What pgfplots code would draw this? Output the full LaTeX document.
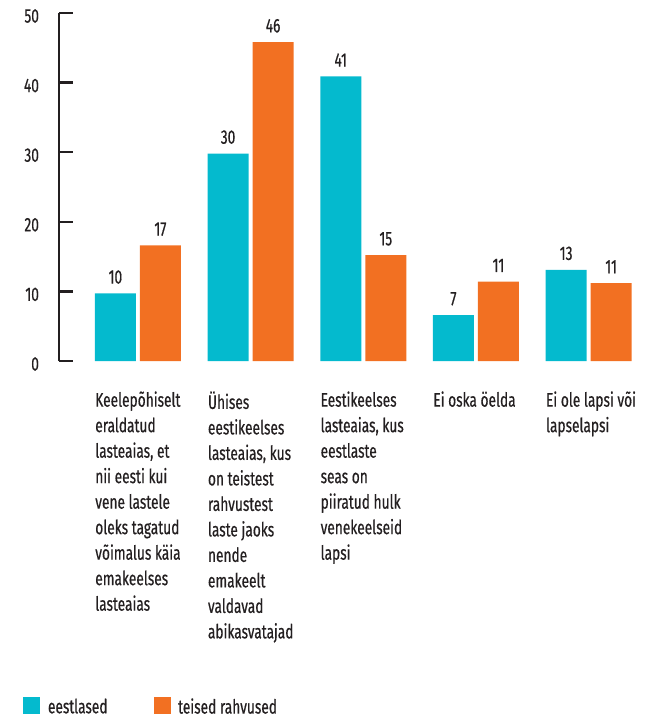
\documentclass[border=0pt]{standalone}
\usepackage{fontspec}
\setmainfont{Fira Sans}[FakeStretch=0.70, FakeBold=0.5]
\usepackage{pgfplots}
\pgfplotsset{compat=1.18}
\definecolor{tealc}{RGB}{4,186,206}
\definecolor{orng}{RGB}{242,112,34}
\definecolor{txt}{RGB}{35,31,32}
\newcommand\lf{\fontsize{9.8}{12.75}\selectfont}
\begin{document}
\begin{tikzpicture}
\path[use as bounding box] (-29.5pt,-179pt) rectangle (296.5pt,180.5pt);
\begin{axis}[
  scale only axis, width=293pt, height=174pt,
  xmin=-0.7, xmax=4.5, ymin=0, ymax=50,
  enlarge y limits=false,
  axis lines*=left,
  x axis line style={draw=none},
  y axis line style={line width=1.4pt, color=txt},
  xtick={0,1,2,3,4},
  xticklabels={{Keelepõhiselt\\eraldatud\\lasteaias, et\\nii eesti kui\\vene lastele\\oleks tagatud\\võimalus käia\\emakeelses\\lasteaias},
    {Ühises\\eestikeelses\\lasteaias, kus\\on teistest\\rahvustest\\laste jaoks\\nende\\emakeelt\\valdavad\\abikasvatajad},
    {Eestikeelses\\lasteaias, kus\\eestlaste\\seas on\\piiratud hulk\\venekeelseid\\lapsi},
    {Ei oska öelda},
    {Ei ole lapsi või\\lapselapsi}},
  xticklabel style={font=\lf, text=txt, align=left, anchor=north west, inner sep=0pt, xshift=-21.5pt, yshift=-8pt},
  xtick style={draw=none},
  ytick={0,10,20,30,40,50},
  ytick style={line width=1.2pt, color=txt},
  yticklabel style={font=\lf, text=txt, xshift=-6.5pt, yshift=-1.5pt},
  /pgf/number format/assume math mode=true,
  tick align=inside, major tick length=7pt,
  ybar=2pt, bar width=20.5pt,
  clip=false,
  nodes near coords={\pgfmathprintnumber[fixed,precision=0]{\pgfplotspointmeta}},
  every node near coord/.append style={font=\lf, text=txt, yshift=1.3pt},
  legend columns=2,
  legend style={at={(0,0)}, anchor=south west, xshift=-18pt, yshift=-178pt,
    draw=none, fill=none, inner sep=0pt, font=\lf, text=txt,
    nodes={inner sep=0pt},
    /tikz/every odd column/.append style={column sep=3.8pt},
    /tikz/every even column/.append style={column sep=23pt}},
]
\addplot[fill=tealc, draw=none,
  legend image code/.code={\fill[tealc] (0pt,-3.5pt) rectangle (8.5pt,5pt);}]
  coordinates {(0,9.7) (1,29.8) (2,40.9) (3,6.6) (4,13.1)};
\addlegendentry{eestlased}
\addplot[fill=orng, draw=none,
  legend image code/.code={\fill[orng] (0pt,-3.5pt) rectangle (8.5pt,5pt);}]
  coordinates {(0,16.6) (1,45.8) (2,15.2) (3,11.4) (4,11.2)};
\addlegendentry{teised rahvused}
\end{axis}
\end{tikzpicture}
\end{document}
